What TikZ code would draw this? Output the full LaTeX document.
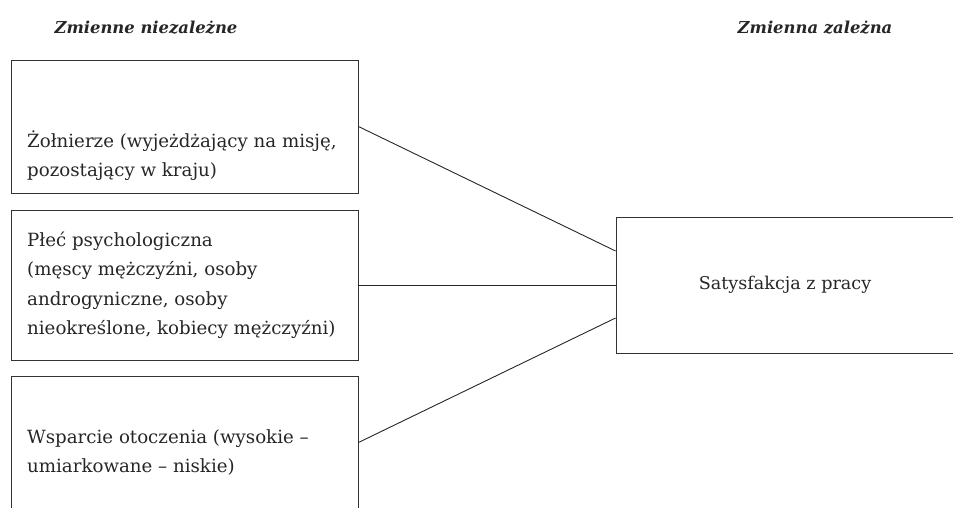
\documentclass[tikz,border=0pt]{standalone}
\usepackage{fontspec}
\setmainfont{DejaVu Serif}
\usetikzlibrary{positioning, calc}

\begin{document}
\begin{tikzpicture}[x=1pt, y=-1pt,
    box/.style={draw=black!80, line width=0.9pt, minimum width=347pt, minimum height=133pt, inner sep=0pt},
    txt/.style={anchor=west, align=left, inner sep=0pt, text=black!85,
      font=\fontsize{18.2}{29.5}\selectfont},
    head/.style={inner sep=0pt, text=black!85, font=\fontsize{16.4}{20}\selectfont\bfseries\itshape},
    conn/.style={draw=black!85, line width=0.9pt}]
    \clip (0,0) rectangle (953,508);
    % headings
    \node[head] (indep) at (146,28) {Zmienne niezależne};
    \node[head] (dep) at (815,28) {Zmienna zależna};
    % independent variables
    \node[box] (zol) at (184.5,126.5) {};
    \node[box, minimum height=150pt] (plec) at (184.5,285) {};
    \node[box] (wsp) at (184.5,442.5) {};
    \node[txt] (zoltxt) at (27,155.5) {Żołnierze (wyjeżdżający na misję,\\pozostający w kraju)};
    \node[txt] (plectxt) at (27,285) {Płeć psychologiczna\\(męscy mężczyźni, osoby\\androgyniczne, osoby\\nieokreślone, kobiecy mężczyźni)};
    \node[txt] (wsptxt) at (27,452.5) {Wsparcie otoczenia (wysokie –\\umiarkowane – niskie)};
    % dependent variable
    \node[box, minimum width=338pt, minimum height=136pt,
      font=\fontsize{17.6}{29.5}\selectfont, text=black!85] (sat) at (785,285) {Satysfakcja z pracy};
    \draw[conn] (zol.east) -- ([yshift=34pt]sat.west);
    \draw[conn] (plec.east) -- (sat.west);
    \draw[conn] (wsp.east) -- ([yshift=-33pt]sat.west);
\end{tikzpicture}
\end{document}
